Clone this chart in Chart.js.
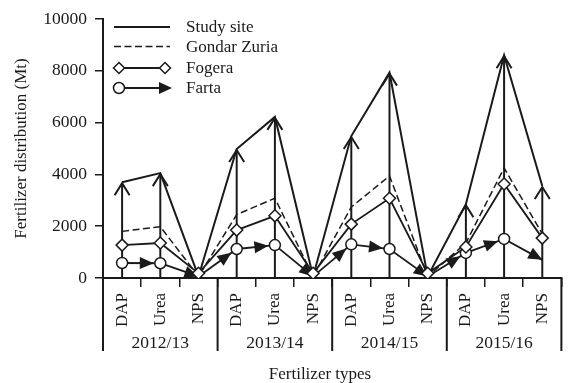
<!DOCTYPE html>
<html>
<head>
<meta charset="utf-8">
<script src="https://cdn.jsdelivr.net/npm/chart.js@4.4.0/dist/chart.umd.min.js"></script>
<style>
  html, body { margin: 0; padding: 0; background: #fff; }
  canvas { display: block; }
</style>
</head>
<body>
<canvas id="chart" width="569" height="383"></canvas>
<script>
// Fertilizer distribution per season and fertilizer type (Mt)
const seasons = ['2012/13', '2013/14', '2014/15', '2015/16'];
const fertilizers = ['DAP', 'Urea', 'NPS'];
const categories = seasons.flatMap(() => fertilizers);

const studySite   = [3700, 4050, 60, 4980, 6220, 60, 5480, 7930, 60, 2850, 8600, 3550];
const gondarZuria = [1800, 1980, 60, 2450, 3080, 60, 2740, 3940, 60, 1350, 4250, 1700];
const fogera      = [1270, 1350, 180, 1850, 2400, 180, 2080, 3080, 180, 1200, 3630, 1540];
const farta       = [580, 570, 60, 1120, 1270, 60, 1300, 1120, 60, 970, 1510, 700];

const yTicks = [0, 2000, 4000, 6000, 8000, 10000];

const FONT = '"Liberation Serif", "Times New Roman", serif';
const INK = '#1a1a1a';
const FS = 17;

function filledHead(ctx, fromX, fromY, tipX, tipY, len, half) {
  const dx = tipX - fromX, dy = tipY - fromY;
  const d = Math.hypot(dx, dy) || 1;
  const ux = dx / d, uy = dy / d;
  const bx = tipX - ux * len, by = tipY - uy * len;
  ctx.beginPath();
  ctx.moveTo(tipX, tipY);
  ctx.lineTo(bx - uy * half, by + ux * half);
  ctx.lineTo(bx + uy * half, by - ux * half);
  ctx.closePath();
  ctx.fill();
}

function openHead(ctx, x, y, half, len) {
  ctx.beginPath();
  ctx.moveTo(x - half, y + len);
  ctx.lineTo(x, y);
  ctx.lineTo(x + half, y + len);
  ctx.stroke();
}

function diamond(ctx, x, y, r) {
  ctx.beginPath();
  ctx.moveTo(x, y - r); ctx.lineTo(x + r, y); ctx.lineTo(x, y + r); ctx.lineTo(x - r, y);
  ctx.closePath();
  ctx.fillStyle = '#fff'; ctx.fill(); ctx.stroke();
}

// vertical arrows rising from the axis to the study-site totals
const riserPlugin = {
  id: 'risers',
  beforeDatasetsDraw(chart) {
    const { ctx, scales: { x, y } } = chart;
    ctx.save();
    ctx.strokeStyle = INK; ctx.lineWidth = 2; ctx.lineJoin = 'miter';
    const base = y.getPixelForValue(0);
    studySite.forEach((v, i) => {
      if (v < 1000) return;
      const px = x.getPixelForValue(i), top = y.getPixelForValue(v) + 1;
      ctx.beginPath(); ctx.moveTo(px, base); ctx.lineTo(px, top); ctx.stroke();
      openHead(ctx, px, top, 7.5, 12);
    });
    ctx.restore();
  }
};

// arrowheads along every Farta segment
const fartaArrows = {
  id: 'fartaArrows',
  afterDatasetDraw(chart, args) {
    if (chart.data.datasets[args.index].label !== 'Farta') return;
    const { ctx } = chart;
    const pts = args.meta.data;
    ctx.save();
    ctx.fillStyle = INK;
    for (let i = 0; i < pts.length - 1; i++) {
      const a = pts[i], b = pts[i + 1];
      const r = b.options.radius > 0 ? b.options.radius + 1 : 0;
      const dx = b.x - a.x, dy = b.y - a.y, d = Math.hypot(dx, dy);
      const tx = b.x - dx / d * r, ty = b.y - dy / d * r;
      filledHead(ctx, a.x, a.y, tx, ty, 14, 6);
    }
    ctx.restore();
  }
};

// season separators, season labels, axis title and the legend
const decorPlugin = {
  id: 'decor',
  afterDraw(chart) {
    const { ctx, scales: { x, y } } = chart;
    const band = x.getPixelForValue(1) - x.getPixelForValue(0);
    const base = y.getPixelForValue(0);
    ctx.save();
    ctx.strokeStyle = INK; ctx.fillStyle = INK; ctx.lineWidth = 2;
    for (let g = 0; g <= seasons.length; g++) {
      const px = x.getPixelForValue(g * 3) - band / 2;
      ctx.beginPath(); ctx.moveTo(px, base); ctx.lineTo(px, base + 73); ctx.stroke();
    }
    ctx.font = `${FS + 0.5}px ${FONT}`;
    ctx.textAlign = 'center'; ctx.textBaseline = 'middle';
    seasons.forEach((s, g) => {
      const px = x.getPixelForValue(g * 3 + 1);
      ctx.fillText(s, px, base + 65);
    });
    ctx.font = `${FS}px ${FONT}`;
    ctx.fillText('Fertilizer types', 320, 375);

    // legend
    const x0 = 114, x1 = 170, tx = 186;
    const rows = [27, 46.5, 68, 88];
    ctx.textAlign = 'left';
    chart.data.datasets.forEach((ds, i) => {
      const ly = rows[i];
      ctx.setLineDash(ds.borderDash || []);
      ctx.lineWidth = ds.borderWidth;
      ctx.beginPath(); ctx.moveTo(x0, ly); ctx.lineTo(x1, ly); ctx.stroke();
      ctx.setLineDash([]);
      ctx.lineWidth = 1.5;
      if (ds.label === 'Fogera') {
        diamond(ctx, x0 + 5, ly, 5.5); diamond(ctx, x1 - 5, ly, 5.5);
      } else if (ds.label === 'Farta') {
        ctx.beginPath(); ctx.arc(x0 + 5, ly, 5.5, 0, Math.PI * 2);
        ctx.fillStyle = '#fff'; ctx.fill(); ctx.stroke();
        ctx.fillStyle = INK;
        filledHead(ctx, x0, ly, x1 + 2, ly, 13, 6);
      }
      ctx.fillStyle = INK;
      ctx.fillText(ds.label, tx, ly + 1);
    });
    ctx.restore();
  }
};

new Chart(document.getElementById('chart'), {
  type: 'line',
  data: {
    labels: categories,
    datasets: [
      { label: 'Study site', data: studySite, borderColor: INK, borderWidth: 2,
        pointRadius: 0, order: 3 },
      { label: 'Gondar Zuria', data: gondarZuria, borderColor: INK, borderWidth: 1.5,
        borderDash: [7, 3.5], pointRadius: 0, order: 2 },
      { label: 'Fogera', data: fogera, borderColor: INK, borderWidth: 1.8,
        pointStyle: 'rectRot', pointRadius: 6, pointBackgroundColor: '#fff',
        pointBorderColor: INK, pointBorderWidth: 1.5, order: 0 },
      { label: 'Farta', data: farta, borderColor: INK, borderWidth: 1.8,
        pointStyle: 'circle',
        pointRadius: ctx => (ctx.dataIndex % 3 === 2 ? 0 : 5.5),
        pointBackgroundColor: '#fff', pointBorderColor: INK, pointBorderWidth: 1.5,
        order: 1 }
    ]
  },
  options: {
    responsive: false,
    animation: false,
    devicePixelRatio: 1,
    layout: { padding: { top: 19, right: 2, bottom: 0, left: 0 } },
    plugins: { legend: { display: false }, tooltip: { enabled: false } },
    elements: { line: { tension: 0 } },
    scales: {
      x: {
        type: 'category',
        offset: true,
        afterFit: s => { s.height = 105; },
        grid: { offset: true, drawOnChartArea: false, drawTicks: true, tickLength: 9,
                color: INK, lineWidth: 1.5 },
        border: { display: true, color: INK, width: 2 },
        ticks: { autoSkip: false, minRotation: 90, maxRotation: 90, padding: 6,
                 color: INK, font: { family: FONT, size: FS } }
      },
      y: {
        min: 0, max: 10000,
        afterFit: s => { s.width = 103; },
        afterBuildTicks: s => { s.ticks = yTicks.map(v => ({ value: v })); },
        grid: { drawOnChartArea: false, drawTicks: true, tickLength: 8, color: INK, lineWidth: 1.5 },
        border: { display: true, color: INK, width: 2 },
        ticks: { padding: 8, color: INK, font: { family: FONT, size: FS + 0.5 },
                 callback: v => String(v) },
        title: { display: true, text: 'Fertilizer distribution (Mt)', color: INK,
                 font: { family: FONT, size: FS }, padding: { top: 11, bottom: 0 } }
      }
    }
  },
  plugins: [riserPlugin, fartaArrows, decorPlugin]
});
</script>
</body>
</html>
